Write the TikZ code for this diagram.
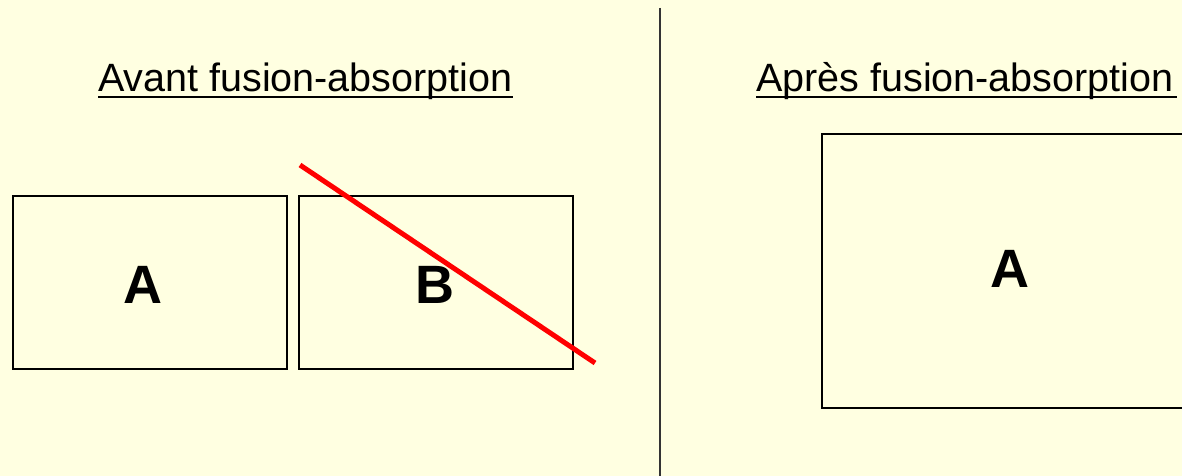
\documentclass[tikz,border=0pt]{standalone}
\usepackage{fontspec}
\setmainfont{Liberation Sans}
\begin{document}
\begin{tikzpicture}[x=1pt,y=-1pt,
  box/.style={draw=black,line width=2pt,inner sep=0pt},
  letter/.style={font=\fontsize{54}{62}\selectfont\bfseries,inner sep=0pt},
  title/.style={inner sep=0pt,anchor=base west,font=\fontsize{39.5}{46}\selectfont},
  uline/.style={line width=2pt},
  cross/.style={draw=red,line width=5pt},
  sep/.style={draw=black!80,line width=2pt}]
\fill[fill={rgb,255:red,255;green,255;blue,225}] (0,0) rectangle (1182,476);
\useasboundingbox (0,0) rectangle (1182,476);
\clip (0,0) rectangle (1182,476);
% titles
\node[title] (t1) at (98,92) {Avant fusion-absorption};
\node[title] (t2) at (756,92) {Après fusion-absorption};
\draw[uline] ([yshift=-5pt]t1.base west) -- ([yshift=-5pt]t1.base east);
\draw[uline] ([yshift=-5pt]t2.base west) -- ([yshift=-5pt,xshift=3pt]t2.base east);
% separator
\coordinate (s1) at (660,8);
\coordinate (s2) at (660,476);
\draw[sep] (s1) -- (s2);
% boxes
\node[box,minimum width=274pt,minimum height=173pt] (a) at (150,282.5) {};
\node[box,minimum width=274pt,minimum height=173pt] (b) at (436,282.5) {};
\node[box,minimum width=400pt,minimum height=274pt] (c) at (1022,271) {};
\node[letter] (la) at (143,284.5) {A};
\node[letter] (lb) at (435,284.5) {B};
\node[letter] (lc) at (1009.5,268.5) {A};
% cross
\coordinate (r1) at (300,165);
\coordinate (r2) at (595,363);
\draw[cross] (r1) -- (r2);
\end{tikzpicture}
\end{document}
